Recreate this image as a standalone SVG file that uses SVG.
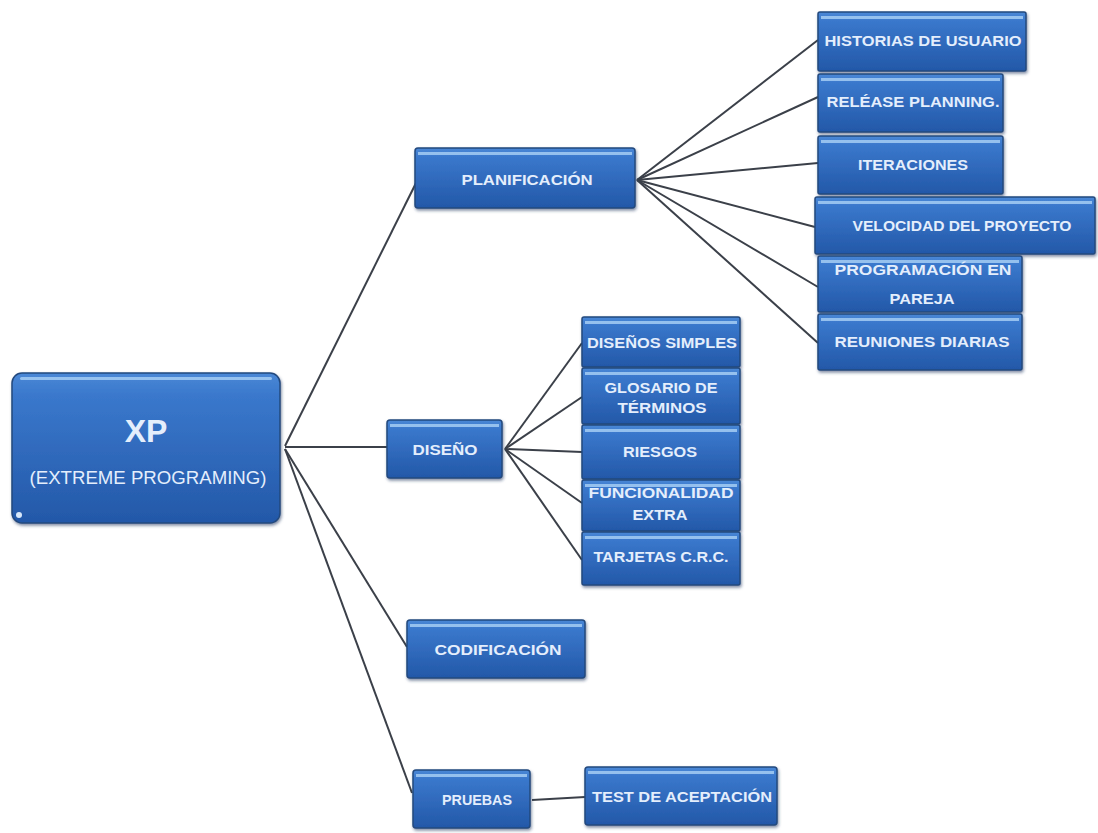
<svg xmlns="http://www.w3.org/2000/svg" width="1098" height="833" viewBox="0 0 1098 833">
<defs>
<linearGradient id="g" x1="0" y1="0" x2="0" y2="1">
<stop offset="0" stop-color="#4a88d6"/>
<stop offset="0.15" stop-color="#3a78cc"/>
<stop offset="1" stop-color="#2358a8"/>
</linearGradient>
<filter id="sh" x="-10%" y="-10%" width="120%" height="130%">
<feDropShadow dx="1" dy="2" stdDeviation="1.5" flood-color="#1b3560" flood-opacity="0.55"/>
</filter>
<style>
.box{fill:url(#g);stroke:#23497e;stroke-width:1.5;filter:url(#sh)}
.hl{fill:#a4cdf3;opacity:0.85}
.t{font-family:"Liberation Sans",Arial,sans-serif;font-weight:bold;font-size:14px;fill:#e4eefc;text-anchor:middle}
.big{font-size:32px}
.sub{font-size:18px;font-weight:normal}
.c{stroke:#3b4049;stroke-width:2;fill:none}
</style>
</defs>
<rect width="1098" height="833" fill="#ffffff"/>
<g id="connectors">
<line class="c" x1="285" y1="446" x2="417" y2="181"/>
<line class="c" x1="285" y1="447" x2="387" y2="447"/>
<line class="c" x1="285" y1="449" x2="407" y2="647"/>
<line class="c" x1="285" y1="449" x2="412" y2="793"/>
<line class="c" x1="637" y1="180" x2="818" y2="40"/>
<line class="c" x1="637" y1="180" x2="818" y2="97"/>
<line class="c" x1="637" y1="180" x2="818" y2="163"/>
<line class="c" x1="637" y1="180" x2="815" y2="227"/>
<line class="c" x1="637" y1="180" x2="818" y2="287"/>
<line class="c" x1="637" y1="180" x2="818" y2="343"/>
<line class="c" x1="505" y1="449" x2="582" y2="343"/>
<line class="c" x1="505" y1="449" x2="582" y2="397"/>
<line class="c" x1="505" y1="449" x2="582" y2="452"/>
<line class="c" x1="505" y1="449" x2="582" y2="503"/>
<line class="c" x1="505" y1="449" x2="582" y2="560"/>
<line class="c" x1="532" y1="800" x2="585" y2="797"/>
</g>
<g id="xp">
<rect class="box" x="12" y="373" width="268" height="150" rx="10"/>
<rect class="hl" x="20" y="377" width="252" height="3" rx="1.5"/>
<circle cx="19" cy="515" r="3" fill="#d8e8fa"/>
<text class="t big" x="146" y="442">XP</text>
<text class="t sub" x="148" y="484" textLength="237" lengthAdjust="spacingAndGlyphs">(EXTREME PROGRAMING)</text>
</g>
<g id="planificacion">
<rect class="box" x="415" y="148" width="220" height="60" rx="3"/>
<rect class="hl" x="418" y="152" width="214" height="3"/>
<text class="t" x="527" y="185" textLength="131" lengthAdjust="spacingAndGlyphs">PLANIFICACIÓN</text>
</g>
<g id="historias">
<rect class="box" x="818" y="12" width="208" height="59" rx="2"/>
<rect class="hl" x="821" y="16" width="202" height="3"/>
<text class="t" x="923" y="46" textLength="197" lengthAdjust="spacingAndGlyphs">HISTORIAS DE USUARIO</text>
</g>
<g id="release">
<rect class="box" x="818" y="74" width="185" height="58" rx="2"/>
<rect class="hl" x="821" y="78" width="179" height="3"/>
<text class="t" x="913" y="107" textLength="173" lengthAdjust="spacingAndGlyphs">RELÉASE PLANNING.</text>
</g>
<g id="iteraciones">
<rect class="box" x="818" y="136" width="185" height="58" rx="2"/>
<rect class="hl" x="821" y="140" width="179" height="3"/>
<text class="t" x="913" y="170" textLength="110" lengthAdjust="spacingAndGlyphs">ITERACIONES</text>
</g>
<g id="velocidad">
<rect class="box" x="815" y="197" width="280" height="57" rx="2"/>
<rect class="hl" x="818" y="201" width="274" height="3"/>
<text class="t" x="962" y="231" textLength="219" lengthAdjust="spacingAndGlyphs">VELOCIDAD DEL PROYECTO</text>
</g>
<g id="programacion">
<rect class="box" x="818" y="256" width="204" height="56" rx="2"/>
<rect class="hl" x="821" y="260" width="198" height="3"/>
<text class="t" x="923" y="275" textLength="177" lengthAdjust="spacingAndGlyphs">PROGRAMACIÓN EN</text>
<text class="t" x="922" y="304" textLength="65" lengthAdjust="spacingAndGlyphs">PAREJA</text>
</g>
<g id="reuniones">
<rect class="box" x="818" y="314" width="204" height="56" rx="2"/>
<rect class="hl" x="821" y="318" width="198" height="3"/>
<text class="t" x="922" y="347" textLength="175" lengthAdjust="spacingAndGlyphs">REUNIONES DIARIAS</text>
</g>
<g id="diseno">
<rect class="box" x="387" y="420" width="115" height="58" rx="3"/>
<rect class="hl" x="390" y="424" width="109" height="3"/>
<text class="t" x="445" y="455" textLength="65" lengthAdjust="spacingAndGlyphs">DISEÑO</text>
</g>
<g id="disenos-simples">
<rect class="box" x="582" y="317" width="158" height="50" rx="2"/>
<rect class="hl" x="585" y="321" width="152" height="3"/>
<text class="t" x="662" y="348" textLength="150" lengthAdjust="spacingAndGlyphs">DISEÑOS SIMPLES</text>
</g>
<g id="glosario">
<rect class="box" x="582" y="368" width="158" height="56" rx="2"/>
<rect class="hl" x="585" y="372" width="152" height="3"/>
<text class="t" x="661" y="393" textLength="113" lengthAdjust="spacingAndGlyphs">GLOSARIO DE</text>
<text class="t" x="662" y="413" textLength="89" lengthAdjust="spacingAndGlyphs">TÉRMINOS</text>
</g>
<g id="riesgos">
<rect class="box" x="582" y="425" width="158" height="54" rx="2"/>
<rect class="hl" x="585" y="429" width="152" height="3"/>
<text class="t" x="660" y="457" textLength="74" lengthAdjust="spacingAndGlyphs">RIESGOS</text>
</g>
<g id="funcionalidad">
<rect class="box" x="582" y="480" width="158" height="51" rx="2"/>
<rect class="hl" x="585" y="484" width="152" height="3"/>
<text class="t" x="661" y="498" textLength="145" lengthAdjust="spacingAndGlyphs">FUNCIONALIDAD</text>
<text class="t" x="660" y="520" textLength="55" lengthAdjust="spacingAndGlyphs">EXTRA</text>
</g>
<g id="tarjetas">
<rect class="box" x="582" y="532" width="158" height="53" rx="2"/>
<rect class="hl" x="585" y="536" width="152" height="3"/>
<text class="t" x="661" y="562" textLength="135" lengthAdjust="spacingAndGlyphs">TARJETAS C.R.C.</text>
</g>
<g id="codificacion">
<rect class="box" x="407" y="620" width="178" height="58" rx="3"/>
<rect class="hl" x="410" y="624" width="172" height="3"/>
<text class="t" x="498" y="655" textLength="127" lengthAdjust="spacingAndGlyphs">CODIFICACIÓN</text>
</g>
<g id="pruebas">
<rect class="box" x="413" y="770" width="117" height="58" rx="3"/>
<rect class="hl" x="416" y="774" width="111" height="3"/>
<text class="t" x="477" y="805" textLength="70" lengthAdjust="spacingAndGlyphs">PRUEBAS</text>
</g>
<g id="test">
<rect class="box" x="585" y="767" width="192" height="58" rx="3"/>
<rect class="hl" x="588" y="771" width="186" height="3"/>
<text class="t" x="682" y="802" textLength="180" lengthAdjust="spacingAndGlyphs">TEST DE ACEPTACIÓN</text>
</g>
</svg>
